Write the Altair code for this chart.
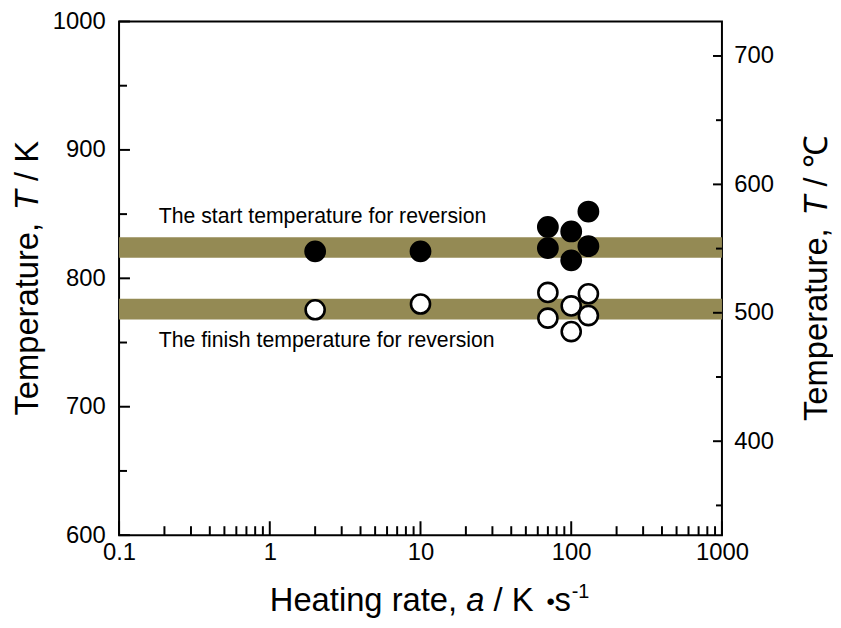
import altair as alt
import pandas as pd

# ---------------- data ----------------
rate_start = [2, 10, 70, 70, 100, 100, 130, 130]
temp_start = [821, 821, 840, 823.5, 836.5, 814, 852, 825]
rate_finish = [2, 10, 70, 70, 100, 100, 130, 130]
temp_finish = [775.5, 780, 789, 769, 778.5, 758.5, 788, 771]

band_names = ["The start temperature for reversion", "The finish temperature for reversion"]
band_low = [816, 768]
band_high = [832, 784]

x_tick_values = [0.1, 1, 10, 100, 1000]
x_minor_values = [0.2, 0.3, 0.4, 0.5, 0.6, 0.7, 0.8, 0.9,
                  2, 3, 4, 5, 6, 7, 8, 9,
                  20, 30, 40, 50, 60, 70, 80, 90,
                  200, 300, 400, 500, 600, 700, 800, 900]
yK_major = [600, 700, 800, 900, 1000]
yK_minor = [650, 750, 850, 950]
yC_major = [400, 500, 600, 700]
yC_minor = [350, 450, 550, 650]

# ---------------- layout ----------------
W, H = 608, 518
FONT = "Liberation Sans"
TITLE_SIZE = 33
LABEL_SIZE = 24
BAND_COLOR = "#948A54"
SP = 0.278 * TITLE_SIZE  # width of a space

xs = alt.Scale(type="log", domain=[0.1, 1000], nice=False)
ys = alt.Scale(domain=[600, 1000], nice=False, zero=False)
ycs = alt.Scale(domain=[600 - 273.15, 1000 - 273.15], nice=False, zero=False)

x_axis = alt.Axis(values=x_tick_values, format="~g", ticks=False, domain=False, grid=False,
                  labelFlush=False, labelPadding=6, labelFontSize=LABEL_SIZE, labelFont=FONT,
                  labelColor="black", title=None, orient="bottom")
yK_axis = alt.Axis(values=yK_major, format="d", ticks=False, domain=False, grid=False,
                   labelPadding=14, labelFontSize=LABEL_SIZE, labelFont=FONT,
                   labelColor="black", title=None, orient="left")
yC_axis = alt.Axis(values=yC_major, format="d", ticks=False, domain=False, grid=False,
                   labelPadding=12, labelFontSize=LABEL_SIZE, labelFont=FONT,
                   labelColor="black", title=None, orient="right")

bands_df = pd.DataFrame({"name": band_names, "lo": band_low, "hi": band_high})
bands = alt.Chart(bands_df).mark_rect(color=BAND_COLOR).encode(
    y=alt.Y("lo:Q", scale=ys, axis=yK_axis), y2="hi:Q",
    x=alt.value(0), x2=alt.value(W))

start_df = pd.DataFrame({"rate": rate_start, "T": temp_start})
finish_df = pd.DataFrame({"rate": rate_finish, "T": temp_finish})

filled = alt.Chart(start_df).mark_point(
    shape="circle", filled=True, fill="black", stroke="black", strokeWidth=2,
    size=400, opacity=1, fillOpacity=1, strokeOpacity=1).encode(
    x=alt.X("rate:Q", scale=xs, axis=x_axis), y=alt.Y("T:Q", scale=ys, axis=yK_axis))

opened = alt.Chart(finish_df).mark_point(
    shape="circle", filled=True, fill="white", stroke="black", strokeWidth=2.6,
    size=370, opacity=1, fillOpacity=1, strokeOpacity=1).encode(
    x=alt.X("rate:Q", scale=xs, axis=x_axis), y=alt.Y("T:Q", scale=ys, axis=yK_axis))


def yrule(values, length):
    return alt.Chart(pd.DataFrame({"v": values})).mark_rule(color="black", strokeWidth=2).encode(
        y=alt.Y("v:Q", scale=ys, axis=yK_axis), x=alt.value(0), x2=alt.value(length))


def xrule(values, length):
    return alt.Chart(pd.DataFrame({"v": values})).mark_rule(color="black", strokeWidth=2).encode(
        x=alt.X("v:Q", scale=xs, axis=x_axis), y=alt.value(H), y2=alt.value(H - length))


def crule(values, length):
    return alt.Chart(pd.DataFrame({"v": values})).mark_rule(color="black", strokeWidth=2).encode(
        y=alt.Y("v:Q", scale=ycs, axis=yC_axis), x=alt.value(W - length), x2=alt.value(W))


def piece(txt, x, y, size=TITLE_SIZE, italic=False, angle=0, weight="normal"):
    return alt.Chart(pd.DataFrame({"t": [txt]})).mark_text(
        align="left", baseline="alphabetic", angle=angle, font=FONT, fontSize=size,
        fontStyle="italic" if italic else "normal", fontWeight=weight, color="black").encode(
        x=alt.value(x), y=alt.value(y), text="t:N")


ann_start = piece(band_names[0], 40, 203, size=21.4)
ann_finish = piece(band_names[1], 40, 328, size=21.4)

# x axis title: Heating rate, a / K ·s^-1
xt0 = 152
xt_y = 594
w1 = 6.003 * TITLE_SIZE          # "Heating rate, "
w2 = 0.556 * TITLE_SIZE          # "a"
w3 = 1.779 * TITLE_SIZE          # " / K "
w4 = 0.30 * TITLE_SIZE           # bullet
w5 = 0.5 * TITLE_SIZE            # "s"
x_title = [
    piece("Heating rate,", xt0, xt_y),
    piece("a", xt0 + w1, xt_y, italic=True),
    piece("/ K", xt0 + w1 + w2 + SP, xt_y),
    piece("\u2022", xt0 + w1 + w2 + w3 + 4, xt_y - 1, size=24),
    piece("s", xt0 + w1 + w2 + w3 + w4 + 2, xt_y),
    piece("-1", xt0 + w1 + w2 + w3 + w4 + w5 + 3, xt_y - 13, size=20),
]

# left title: Temperature, T / K (rotated)
lt_x = -82
l1 = 6.28 * TITLE_SIZE           # "Temperature, "
l2 = 0.611 * TITLE_SIZE          # "T"
l_total = l1 + l2 + 1.501 * TITLE_SIZE
lt_y0 = H / 2 + l_total / 2
left_title = [
    piece("Temperature,", lt_x, lt_y0, angle=270),
    piece("T", lt_x, lt_y0 - l1, angle=270, italic=True),
    piece("/ K", lt_x, lt_y0 - l1 - l2 - SP, angle=270),
]

# right title: Temperature, T / ℃ (rotated)
rt_x = W + 106
r_total = l1 + l2 + 0.834 * TITLE_SIZE + 1.0 * TITLE_SIZE
rt_y0 = H / 2 + r_total / 2
right_title = [
    piece("Temperature,", rt_x, rt_y0, angle=270),
    piece("T", rt_x, rt_y0 - l1, angle=270, italic=True),
    piece("/ \u2103", rt_x, rt_y0 - l1 - l2 - SP, angle=270),
]

k_layer = alt.layer(
    bands, filled, opened,
    yrule(yK_major, 11), yrule(yK_minor, 8),
    xrule(x_tick_values, 14), xrule(x_minor_values, 9),
    ann_start, ann_finish,
    *x_title, *left_title, *right_title,
)
c_layer = alt.layer(crule(yC_major, 9), crule(yC_minor, 6))

chart = alt.layer(k_layer, c_layer).resolve_scale(y="independent").properties(
    width=W, height=H,
    autosize=alt.AutoSizeParams(type="none"),
    padding={"left": 112, "top": 11, "right": 112, "bottom": 87},
).configure_view(stroke="black", strokeWidth=2)

chart.save("out.html", embed_options={"renderer": "svg", "actions": False})
